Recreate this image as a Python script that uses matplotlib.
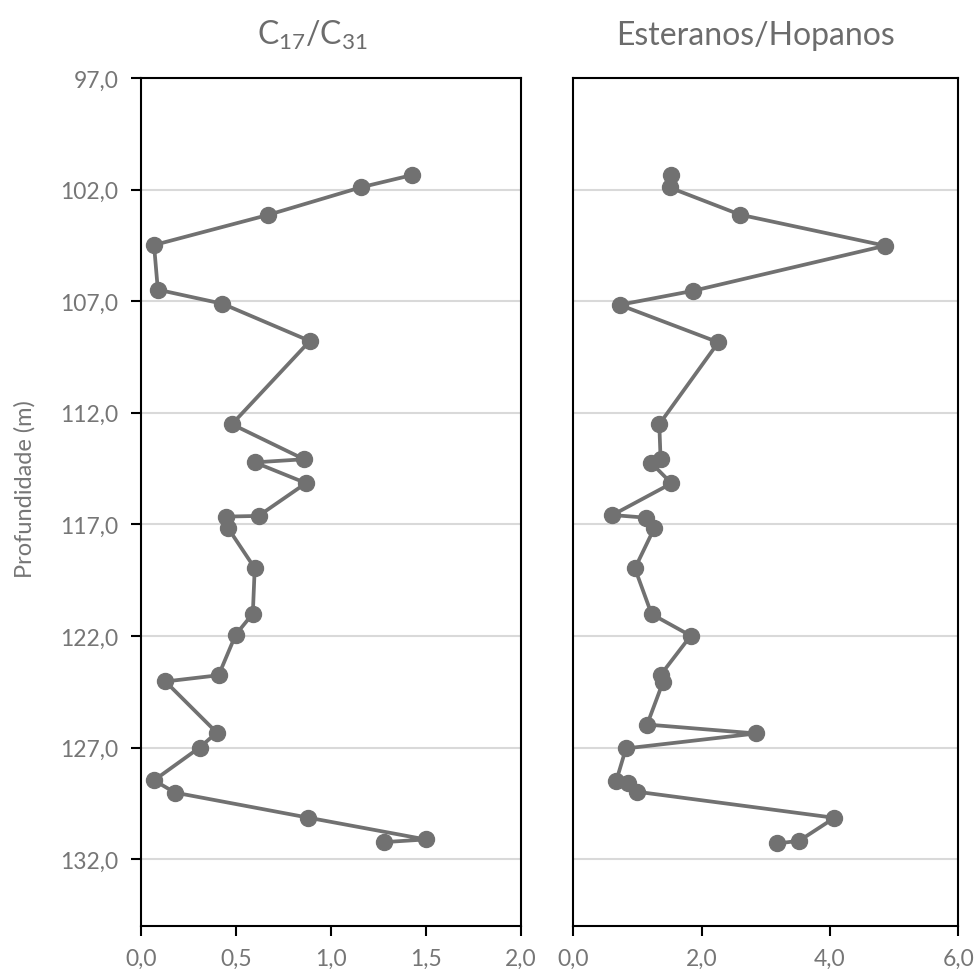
import matplotlib
matplotlib.use("Agg")
import matplotlib.pyplot as plt
from matplotlib.ticker import FuncFormatter, MultipleLocator

plt.rcParams['font.family'] = ['Lato', 'DejaVu Sans']
plt.rcParams['mathtext.fontset'] = 'custom'
plt.rcParams['mathtext.rm'] = 'Lato'
plt.rcParams['mathtext.it'] = 'Lato'

# --- Data ---
depth_c17 = [101.34, 101.89, 103.13, 104.48, 106.48, 107.11, 108.78, 112.51, 114.08, 114.22,
             115.15, 116.62, 116.65, 117.17, 118.96, 121.00, 121.94, 123.76, 124.04, 126.33,
             127.00, 128.47, 129.02, 130.14, 131.12, 131.24]
c17_c31 = [1.43, 1.16, 0.67, 0.07, 0.09, 0.43, 0.89, 0.48, 0.86, 0.60,
           0.87, 0.62, 0.45, 0.46, 0.60, 0.59, 0.50, 0.41, 0.13, 0.40,
           0.31, 0.07, 0.18, 0.88, 1.50, 1.28]

depth_est = [101.33, 101.90, 103.12, 104.51, 106.53, 107.16, 108.84, 112.51, 114.07, 114.23,
             115.16, 116.58, 116.70, 117.18, 118.97, 121.02, 121.99, 123.75, 124.05, 125.97,
             126.37, 127.04, 128.49, 128.61, 128.98, 130.15, 131.18, 131.30]
est_hop = [1.52, 1.50, 2.60, 4.86, 1.87, 0.72, 2.26, 1.34, 1.36, 1.21,
           1.53, 0.61, 1.14, 1.26, 0.96, 1.22, 1.83, 1.36, 1.40, 1.15,
           2.85, 0.82, 0.67, 0.86, 0.99, 4.07, 3.52, 3.18]

titles = [r'C$_{17}$/C$_{31}$', 'Esteranos/Hopanos']
ylabel = 'Profundidade (m)'
y_ticks = [97, 102, 107, 112, 117, 122, 127, 132]
y_range = (97, 135)

line_color = '#717171'
text_color = '#767676'
title_color = '#6c6c6c'
grid_color = '#d9d9d9'

W, H = 978, 970
fig = plt.figure(figsize=(W / 100, H / 100), dpi=100)
ax1 = fig.add_axes([0.1439, 0.0443, 0.3885, 0.8741])
ax2 = fig.add_axes([0.5862, 0.0443, 0.3937, 0.8741])

comma = FuncFormatter(lambda v, p: f"{v:.1f}".replace('.', ','))

for ax, x, y, xmax, xstep in [
        (ax1, c17_c31, depth_c17, 2.0, 0.5),
        (ax2, est_hop, depth_est, 6.0, 2.0)]:
    ax.plot(x, y, color=line_color, lw=2.7, marker='o', ms=11.5,
            markerfacecolor=line_color, markeredgecolor=line_color, zorder=3)
    ax.set_xlim(0, xmax)
    ax.set_ylim(y_range[1], y_range[0])
    ax.set_yticks(y_ticks)
    ax.xaxis.set_major_locator(MultipleLocator(xstep))
    ax.xaxis.set_major_formatter(comma)
    ax.yaxis.set_major_formatter(comma)
    ax.grid(axis='y', color=grid_color, lw=1.5, zorder=0)
    ax.set_axisbelow(True)
    for s in ax.spines.values():
        s.set_color('black')
        s.set_linewidth(1.5)
    ax.tick_params(axis='both', direction='out', length=7, width=1.5,
                   colors='black', labelcolor=text_color, labelsize=16.5)
    ax.tick_params(axis='y', pad=9)
    ax.tick_params(axis='x', pad=9)

ax2.tick_params(axis='y', left=False, labelleft=False)

# titles (slightly left of panel centres, as in the reference)
fig.text(313 / W, 1 - 45 / H, titles[0], fontsize=23, color=title_color,
         ha='center', va='baseline')
fig.text(756 / W, 1 - 45 / H, titles[1], fontsize=23, color=title_color,
         ha='center', va='baseline')
fig.text(25 / W, 1 - 489 / H, ylabel, fontsize=17, color=text_color,
         rotation=90, ha='center', va='center')

fig.savefig('out.png', dpi=100, facecolor='white')
